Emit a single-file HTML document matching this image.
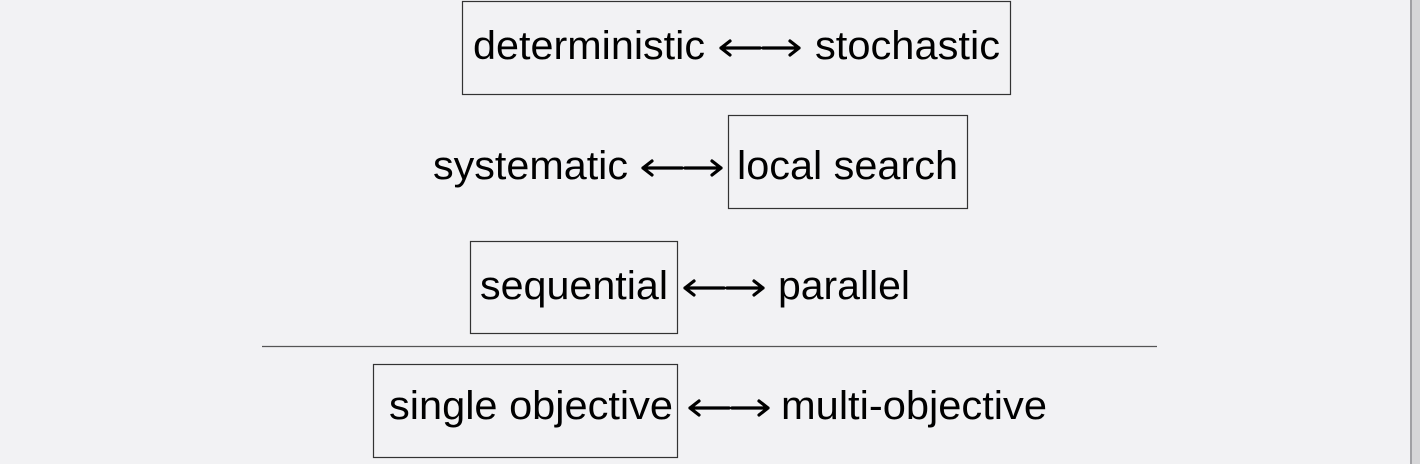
<!DOCTYPE html>
<html><head><style>
html,body{margin:0;padding:0;width:1420px;height:464px;overflow:hidden;background:#f2f2f4;}
svg{display:block}
text{font-family:"Liberation Sans",Arial,sans-serif;font-size:40px;fill:#000;}
</style></head><body>
<svg width="1420" height="464" xmlns="http://www.w3.org/2000/svg">
<rect x="1410" y="0" width="2" height="464" fill="#a0a0a4"/>
<rect x="1412" y="0" width="8" height="464" fill="#d6d6d8"/>
<g fill="none" stroke="#333" stroke-width="1.2">
<rect x="462.5" y="1.5" width="548" height="93"/>
<rect x="728.5" y="115.5" width="239" height="93"/>
<rect x="470.5" y="241.5" width="207" height="92"/>
<rect x="373.5" y="364.5" width="304" height="93"/>
</g>
<line x1="262" y1="346.5" x2="1157" y2="346.5" stroke="#555" stroke-width="1.3"/>
<g stroke="#000" stroke-width="3.2" fill="none" stroke-linecap="round" stroke-linejoin="round">
<path d="M721 48 H760 M763 48 H799 M730 41 L721 48 L730 55 M790 41 L799 48 L790 55"/>
<path d="M643 168 H682 M685 168 H721 M652 161 L643 168 L652 175 M712 161 L721 168 L712 175"/>
<path d="M685 288 H724 M727 288 H763 M694 281 L685 288 L694 295 M754 281 L763 288 L754 295"/>
<path d="M690 408 H729 M732 408 H768 M699 401 L690 408 L699 415 M759 401 L768 408 L759 415"/>
</g>
<text x="473" y="59" textLength="232" lengthAdjust="spacingAndGlyphs">deterministic</text>
<text x="815" y="59" textLength="185" lengthAdjust="spacingAndGlyphs">stochastic</text>
<text x="433" y="179" textLength="195" lengthAdjust="spacingAndGlyphs">systematic</text>
<text x="737" y="179" textLength="221" lengthAdjust="spacingAndGlyphs">local search</text>
<text x="480" y="299" textLength="188" lengthAdjust="spacingAndGlyphs">sequential</text>
<text x="778" y="299" textLength="132" lengthAdjust="spacingAndGlyphs">parallel</text>
<text x="389" y="419" textLength="284" lengthAdjust="spacingAndGlyphs">single objective</text>
<text x="781" y="419" textLength="266" lengthAdjust="spacingAndGlyphs">multi-objective</text>
</svg>
</body></html>
